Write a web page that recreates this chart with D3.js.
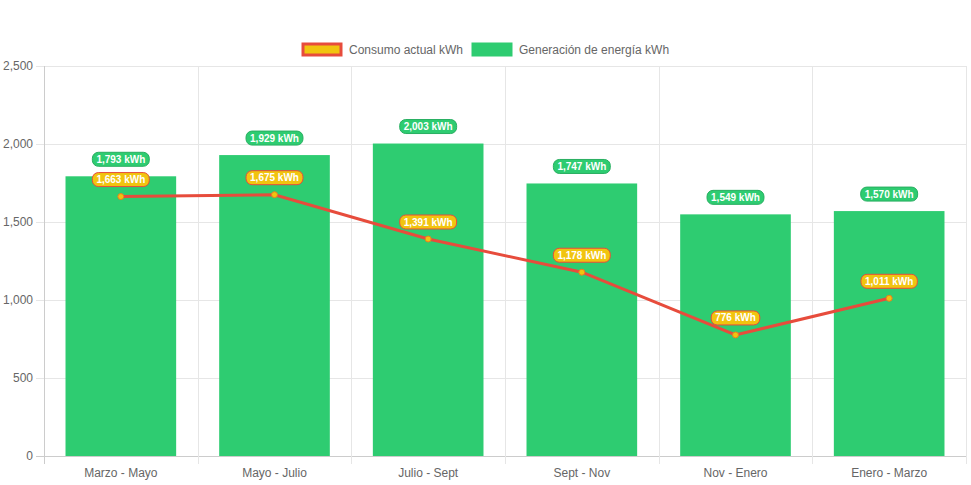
<!DOCTYPE html>
<html>
<head>
<meta charset="utf-8">
<script src="https://d3js.org/d3.v7.min.js"></script>
<style>
  body { margin: 0; background: #fff; }
  svg { font-family: "Liberation Sans", Arial, sans-serif; }
</style>
</head>
<body>
<svg id="vis"></svg>
<script>
    const categories = ['Marzo - Mayo', 'Mayo - Julio', 'Julio - Sept', 'Sept - Nov', 'Nov - Enero', 'Enero - Marzo']
    const generacion = [1793, 1929, 2003, 1747, 1549, 1570]
    const consumo = [1663, 1675, 1391, 1178, 776, 1011]
    const yTicks = [0, 500, 1000, 1500, 2000, 2500]

    const W = 971, H = 485
    const m = { left: 44, right: 5, top: 66, bottom: 29 }

    let svg = d3.select('#vis')
        .attr('width', W)
        .attr('height', H)

    let x = d3.scaleBand()
        .domain(categories)
        .range([m.left, W - m.right])

    let y = d3.scaleLinear()
        .domain([0, 2500])
        .range([H - m.bottom, m.top])

    // grid
    svg.append('g')
        .selectAll('line')
        .data(yTicks)
        .enter().append('line')
        .attr('x1', m.left - 8)
        .attr('x2', W - m.right)
        .attr('y1', d => y(d) + 0.5)
        .attr('y2', d => y(d) + 0.5)
        .attr('stroke', d => d === 0 ? '#ccc' : '#e6e6e6')

    let bounds = categories.map(c => x(c)).concat([W - m.right])
    svg.append('g')
        .selectAll('line')
        .data(bounds)
        .enter().append('line')
        .attr('x1', d => Math.round(d) + 0.5)
        .attr('x2', d => Math.round(d) + 0.5)
        .attr('y1', m.top)
        .attr('y2', H - m.bottom + 8)
        .attr('stroke', (d, i) => i === 0 ? '#ccc' : '#e6e6e6')

    // y labels
    svg.append('g')
        .selectAll('text')
        .data(yTicks)
        .enter().append('text')
        .attr('x', 33)
        .attr('y', d => y(d) + 4)
        .attr('text-anchor', 'end')
        .style('font-size', '12px')
        .attr('fill', '#666')
        .text(d => d3.format(',')(d))

    // x labels
    svg.append('g')
        .selectAll('text')
        .data(categories)
        .enter().append('text')
        .attr('x', d => x(d) + x.bandwidth() / 2)
        .attr('y', H - m.bottom + 21)
        .attr('text-anchor', 'middle')
        .style('font-size', '12px')
        .attr('fill', '#666')
        .text(d => d)

    // bars
    const bw = x.bandwidth() * 0.72
    svg.append('g')
        .selectAll('rect')
        .data(generacion)
        .enter().append('rect')
        .attr('x', (d, i) => x(categories[i]) + (x.bandwidth() - bw) / 2)
        .attr('y', d => y(d))
        .attr('width', bw)
        .attr('height', d => y(0) - y(d))
        .attr('fill', '#2ecc71')

    // line
    let line = d3.line()
        .x((d, i) => x(categories[i]) + x.bandwidth() / 2)
        .y(d => y(d))

    svg.append('path')
        .datum(consumo)
        .attr('d', line)
        .attr('fill', 'none')
        .attr('stroke', '#e74c3c')
        .attr('stroke-width', 3)

    svg.append('g')
        .selectAll('circle')
        .data(consumo)
        .enter().append('circle')
        .attr('cx', (d, i) => x(categories[i]) + x.bandwidth() / 2)
        .attr('cy', d => y(d))
        .attr('r', 3)
        .attr('fill', '#f1c40f')
        .attr('stroke', '#e67e22')
        .attr('stroke-width', 1)

    // data labels
    function labels(data, fill, stroke) {
        let g = svg.append('g')
            .selectAll('g')
            .data(data)
            .enter().append('g')
            .attr('transform', (d, i) => 'translate(' + (x(categories[i]) + x.bandwidth() / 2) + ',' + (y(d) - 17) + ')')
        let t = g.append('text')
            .attr('text-anchor', 'middle')
            .attr('y', 3.5)
            .style('font-size', '10px')
            .style('font-weight', 'bold')
            .attr('fill', '#fff')
            .text(d => d3.format(',')(d) + ' kWh')
        g.insert('rect', 'text')
            .each(function () {
                let w = this.parentNode.querySelector('text').getComputedTextLength() + 8
                d3.select(this)
                    .attr('x', -w / 2)
                    .attr('y', -7)
                    .attr('width', w)
                    .attr('height', 14)
            })
            .attr('rx', 6)
            .attr('fill', fill)
            .attr('stroke', stroke)
            .attr('stroke-width', 1)
    }
    labels(generacion, '#2ecc71', '#27ae60')
    labels(consumo, '#f1c40f', '#e74c3c')

    // legend
    let lg = svg.append('g')
    lg.append('rect')
        .attr('x', 303).attr('y', 44).attr('width', 38).attr('height', 11)
        .attr('fill', '#f1c40f').attr('stroke', '#e74c3c').attr('stroke-width', 3)
    lg.append('text')
        .attr('x', 349).attr('y', 54)
        .style('font-size', '12px').attr('fill', '#666')
        .text('Consumo actual kWh')
    lg.append('rect')
        .attr('x', 472).attr('y', 43).attr('width', 40).attr('height', 13)
        .attr('fill', '#2ecc71').attr('stroke', '#2ecc71')
    lg.append('text')
        .attr('x', 519).attr('y', 54)
        .style('font-size', '12px').attr('fill', '#666')
        .text('Generación de energía kWh')
</script>
</body>
</html>
